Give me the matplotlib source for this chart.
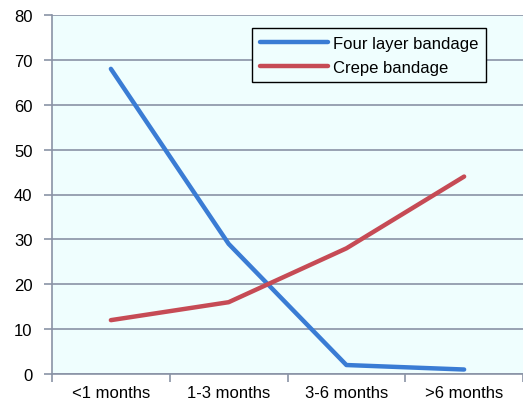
import matplotlib.pyplot as plt

categories = ["<1 months", "1-3 months", "3-6 months", ">6 months"]
four_layer = [68, 29, 2, 1]
crepe = [12, 16, 28, 44]
yticks = [0, 10, 20, 30, 40, 50, 60, 70, 80]

plt.rcParams['font.family'] = ['Liberation Sans', 'DejaVu Sans']

fig = plt.figure(figsize=(5.23, 4.02), dpi=100)
ax = fig.add_axes([52 / 523, 27 / 402, 471 / 523, 359 / 402])
ax.set_facecolor('#EFFEFE')

grid_col = '#8A93A6'
x = range(len(categories))
ax.plot(x, four_layer, color='#3A7CD4', lw=3.2, solid_capstyle='round', label='Four layer bandage')
ax.plot(x, crepe, color='#C64B55', lw=3.2, solid_capstyle='round', label='Crepe bandage')

ax.set_xlim(-0.5, 3.5)
ax.set_ylim(0, 80)
ax.set_yticks(yticks)
ax.yaxis.grid(True, color=grid_col, lw=1.2)
ax.set_axisbelow(True)

# category ticks sit between the groups, labels at the centres
ax.set_xticks([-0.5, 0.5, 1.5, 2.5, 3.5])
ax.set_xticklabels([])
ax.set_xticks(list(x), minor=True)
ax.set_xticklabels(categories, minor=True)
ax.tick_params(axis='x', which='major', length=6, color=grid_col, width=1.2)
ax.tick_params(axis='x', which='minor', length=0, pad=8, labelsize=12)
ax.tick_params(axis='y', length=6, color=grid_col, width=1.2, labelsize=12, pad=8)

for side in ['top', 'right']:
    ax.spines[side].set_visible(False)
ax.spines['left'].set_color(grid_col)
ax.spines['bottom'].set_color(grid_col)
ax.spines['left'].set_linewidth(1.2)
ax.spines['bottom'].set_linewidth(1.2)

leg = ax.legend(loc='upper left', bbox_to_anchor=(200 / 471, 346 / 359), borderaxespad=0,
                fontsize=12, frameon=True, fancybox=False, handlelength=4.1,
                borderpad=0.45, labelspacing=0.55, handletextpad=0.3)
leg.get_frame().set_edgecolor('black')
leg.get_frame().set_linewidth(1.0)
leg.get_frame().set_facecolor('#EFFEFE')
leg.get_frame().set_alpha(1)

fig.savefig('out.png', dpi=100)
